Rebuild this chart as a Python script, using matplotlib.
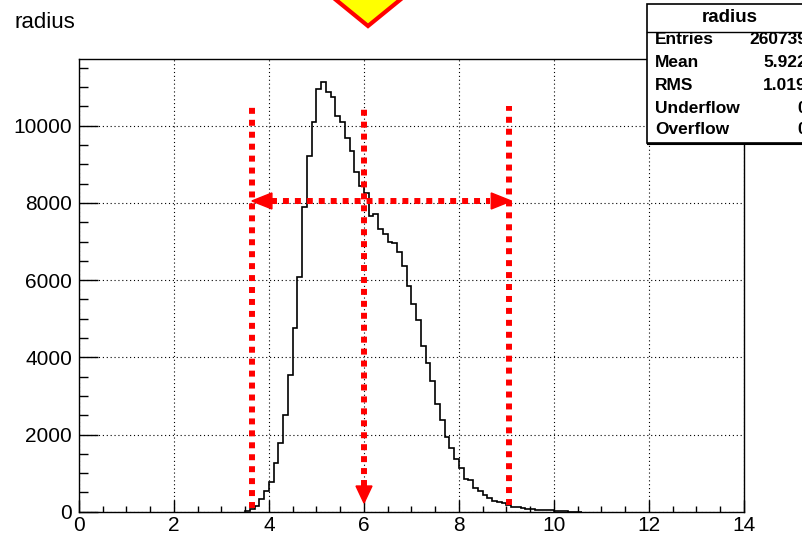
"""Recreate the ROOT 'radius' histogram with marker lines and stats box."""

import numpy as np
import matplotlib

matplotlib.use("Agg")
import matplotlib.pyplot as plt
from matplotlib.patches import Polygon, Rectangle
from matplotlib.lines import Line2D

plt.rcParams["font.family"] = ["Liberation Sans", "DejaVu Sans"]

# histogram: 0.1-wide bins starting at 3.5
bin_start = 3.5
bin_width = 0.1
counts = [
    20, 62, 148, 321, 544, 777, 1269, 1788, 2497, 3549,          # 3.5 - 4.5
    4751, 6088, 7902, 9215, 10088, 10951, 11140, 10881, 10751, 10259,  # 4.5 - 5.5
    10104, 9689, 9345, 8793, 8438, 8264, 7668, 7704, 7316, 7190,       # 5.5 - 6.5
    6995, 6953, 6730, 6355, 5847, 5381, 4966, 4300, 3840, 3380,        # 6.5 - 7.5
    2786, 2376, 1943, 1663, 1360, 1124, 847, 820, 622, 536,            # 7.5 - 8.5
    433, 347, 285, 243, 225, 174, 130, 114, 88, 70,                    # 8.5 - 9.5
    62, 44, 44, 40, 35, 20, 15, 10, 5, 3, 2,                           # 9.5 - 10.6
]

title = "radius"
stat_names = ["Entries", "Mean", "RMS", "Underflow", "Overflow"]
stat_values = ["260739", "5.922", "1.019", "0", "0"]

# marker lines
x_low, x_mid, x_high = 3.64, 6.0, 9.05
line_top = 10500
arrow_y = 8050
arrow_tip_y = 225

W, H = 803, 538
fig = plt.figure(figsize=(W / 100, H / 100), dpi=100)


def fx(px):
    return px / W


def fy(py):
    return 1 - py / H


ax = fig.add_axes([fx(79), fy(511.7), fx(744) - fx(79), fy(59) - fy(511.7)])

edges = bin_start + bin_width * np.arange(len(counts) + 1)
ax.stairs(counts, edges, color="black", lw=1.2)

ax.set_xlim(0, 14)
ax.set_ylim(0, 11728)
ax.set_xticks(np.arange(0, 15, 2))
ax.set_xticks(np.arange(0, 14.01, 0.5), minor=True)
ax.set_yticks(np.arange(0, 11000, 2000))
ax.set_yticks(np.arange(0, 11728, 500), minor=True)
ax.grid(True, which="major", color="black", linestyle=(0, (1, 2.5)), lw=0.8)
ax.tick_params(axis="both", which="both", direction="in", labelsize=15, width=1)
ax.tick_params(axis="x", which="major", length=8.6, pad=3)
ax.tick_params(axis="x", which="minor", length=4.3)
ax.tick_params(axis="y", which="major", length=13.5, pad=5)
ax.tick_params(axis="y", which="minor", length=6.8)
for s in ax.spines.values():
    s.set_linewidth(1)

# red dotted markers
red = "#ff0000"
dot = dict(color=red, lw=4.3, linestyle=(0, (1, 1)), dash_capstyle="butt", zorder=5)
ax.plot([x_low, x_low], [100, line_top], **dot)
ax.plot([x_high, x_high], [170, line_top], **dot)
ax.plot([x_mid, x_mid], [arrow_tip_y + 450, line_top], **dot)
ax.plot([x_low + 0.4, x_high - 0.4], [arrow_y, arrow_y], **dot)

# arrow heads (data units: x per px = 1/47.5, y per px = 1/0.0386)
hx = 20 / 47.5
hy = 8 / 0.0386
ax.add_patch(Polygon([[x_low, arrow_y], [x_low + hx, arrow_y + hy], [x_low + hx, arrow_y - hy]],
                     closed=True, color=red, zorder=6))
ax.add_patch(Polygon([[x_high + 0.05, arrow_y], [x_high + 0.05 - hx, arrow_y + hy],
                      [x_high + 0.05 - hx, arrow_y - hy]], closed=True, color=red, zorder=6))
vx = 8 / 47.5
vy = 17 / 0.0386
ax.add_patch(Polygon([[x_mid, arrow_tip_y], [x_mid - vx, arrow_tip_y + vy], [x_mid + vx, arrow_tip_y + vy]],
                     closed=True, color=red, zorder=6))

# yellow triangle at top
fig.patches.append(Polygon([[fx(330), fy(-5)], [fx(406), fy(-5)], [fx(368), fy(26)]], closed=True,
                           facecolor="#ffff00", edgecolor=red, lw=3, transform=fig.transFigure,
                           figure=fig, zorder=10))

# title
fig.text(fx(15), fy(22), title, fontsize=16, ha="left", va="center")

# stats box
fig.patches.append(Rectangle((fx(647), fy(143)), fx(830) - fx(647), fy(4) - fy(143),
                             facecolor="white", edgecolor="black", lw=1.2,
                             transform=fig.transFigure, figure=fig, zorder=10))
fig.lines.append(Line2D([fx(647), fx(803)], [fy(32), fy(32)], color="black", lw=1,
                        transform=fig.transFigure, figure=fig, zorder=11))
fig.lines.append(Line2D([fx(648), fx(803)], [fy(144), fy(144)], color="black", lw=1.5,
                        transform=fig.transFigure, figure=fig, zorder=11))
fig.text(fx(730), fy(18), title, fontsize=13.5, fontweight="bold", ha="center", va="center", zorder=12)
row_y = [40, 62.7, 85, 108.3, 130]
for name, val, y in zip(stat_names, stat_values, row_y):
    fig.text(fx(655), fy(y), name, fontsize=12.5, fontweight="bold", ha="left", va="center", zorder=12)
    fig.text(fx(807), fy(y), val, fontsize=12.5, fontweight="bold", ha="right", va="center", zorder=12)

fig.savefig("out.png", dpi=100)
